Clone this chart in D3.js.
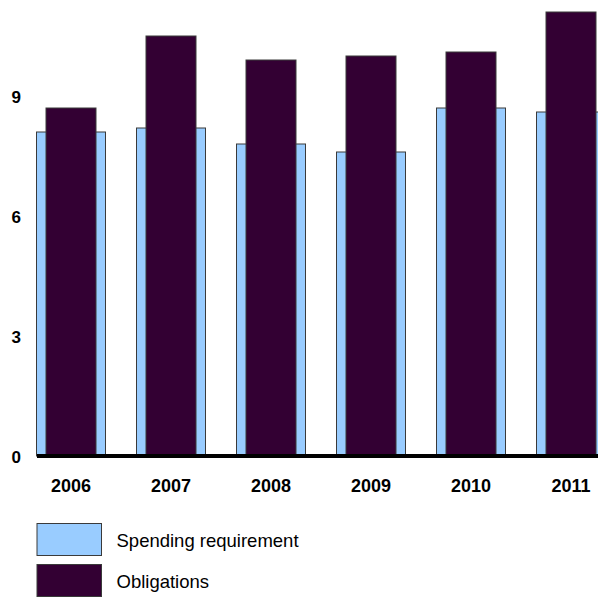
<!DOCTYPE html>
<html>
<head>
<meta charset="utf-8">
<script src="https://cdn.jsdelivr.net/npm/d3@7/dist/d3.min.js"></script>
<style>
  html, body { margin: 0; padding: 0; background: #fff; }
  svg { display: block; }
</style>
</head>
<body>
<svg id="chart" width="598" height="597"></svg>
<script>
// Annual figures (billions)
const years = ["2006", "2007", "2008", "2009", "2010", "2011"];
const spendingRequirement = [8.1, 8.2, 7.8, 7.6, 8.7, 8.6];
const obligations = [8.7, 10.5, 9.9, 10.0, 10.1, 11.1];
const yTicks = [0, 3, 6, 9];
const seriesNames = ["Spending requirement", "Obligations"];
const seriesColors = ["#99ccff", "#330033"];

const svg = d3.select("#chart");
const font = "'Liberation Sans', Arial, sans-serif";

const x = d3.scaleBand().domain(years).range([21, 621]).padding(0);
const y = d3.scaleLinear().domain([0, 9]).range([456, 96]);

const bw = x.bandwidth();
const wideW = bw * 0.69;
const narrowW = bw * 0.5;

// Spending requirement: wide bars behind
svg.append("g").selectAll("rect")
  .data(years)
  .join("rect")
  .attr("x", (d) => x(d) + (bw - wideW) / 2)
  .attr("y", (d, i) => y(spendingRequirement[i]))
  .attr("width", wideW)
  .attr("height", (d, i) => y(0) - y(spendingRequirement[i]))
  .attr("fill", seriesColors[0])
  .attr("stroke", "#3a3a3a")
  .attr("stroke-width", 1);

// Obligations: narrower bars in front
svg.append("g").selectAll("rect")
  .data(years)
  .join("rect")
  .attr("x", (d) => x(d) + (bw - narrowW) / 2)
  .attr("y", (d, i) => y(obligations[i]))
  .attr("width", narrowW)
  .attr("height", (d, i) => y(0) - y(obligations[i]))
  .attr("fill", seriesColors[1])
  .attr("stroke", "#3a3a3a")
  .attr("stroke-width", 1);

// Baseline
svg.append("rect")
  .attr("x", 37)
  .attr("y", y(0) - 2)
  .attr("width", 600)
  .attr("height", 4)
  .attr("fill", "#000");

// Y tick labels
svg.append("g").selectAll("text")
  .data(yTicks)
  .join("text")
  .attr("x", 21)
  .attr("y", (d) => y(d) + 1)
  .attr("text-anchor", "end")
  .attr("dominant-baseline", "central")
  .attr("font-family", font)
  .attr("font-weight", "bold")
  .attr("font-size", 17)
  .attr("fill", "#000")
  .text((d) => d);

// X category labels
svg.append("g").selectAll("text")
  .data(years)
  .join("text")
  .attr("x", (d) => x(d) + bw / 2)
  .attr("y", 486)
  .attr("text-anchor", "middle")
  .attr("dominant-baseline", "central")
  .attr("font-family", font)
  .attr("font-weight", "bold")
  .attr("font-size", 18)
  .attr("fill", "#000")
  .text((d) => d);

// Legend
const legend = svg.append("g");
const legendRows = [523.5, 564.5];
seriesNames.forEach((name, i) => {
  legend.append("rect")
    .attr("x", 37)
    .attr("y", legendRows[i])
    .attr("width", 64.5)
    .attr("height", 32)
    .attr("fill", seriesColors[i])
    .attr("stroke", "#3a3a3a")
    .attr("stroke-width", 1);
  legend.append("text")
    .attr("x", 116.5)
    .attr("y", legendRows[i] + 17)
    .attr("dominant-baseline", "central")
    .attr("font-family", font)
    .attr("font-size", 18.5)
    .attr("fill", "#000")
    .text(name);
});
</script>
</body>
</html>
